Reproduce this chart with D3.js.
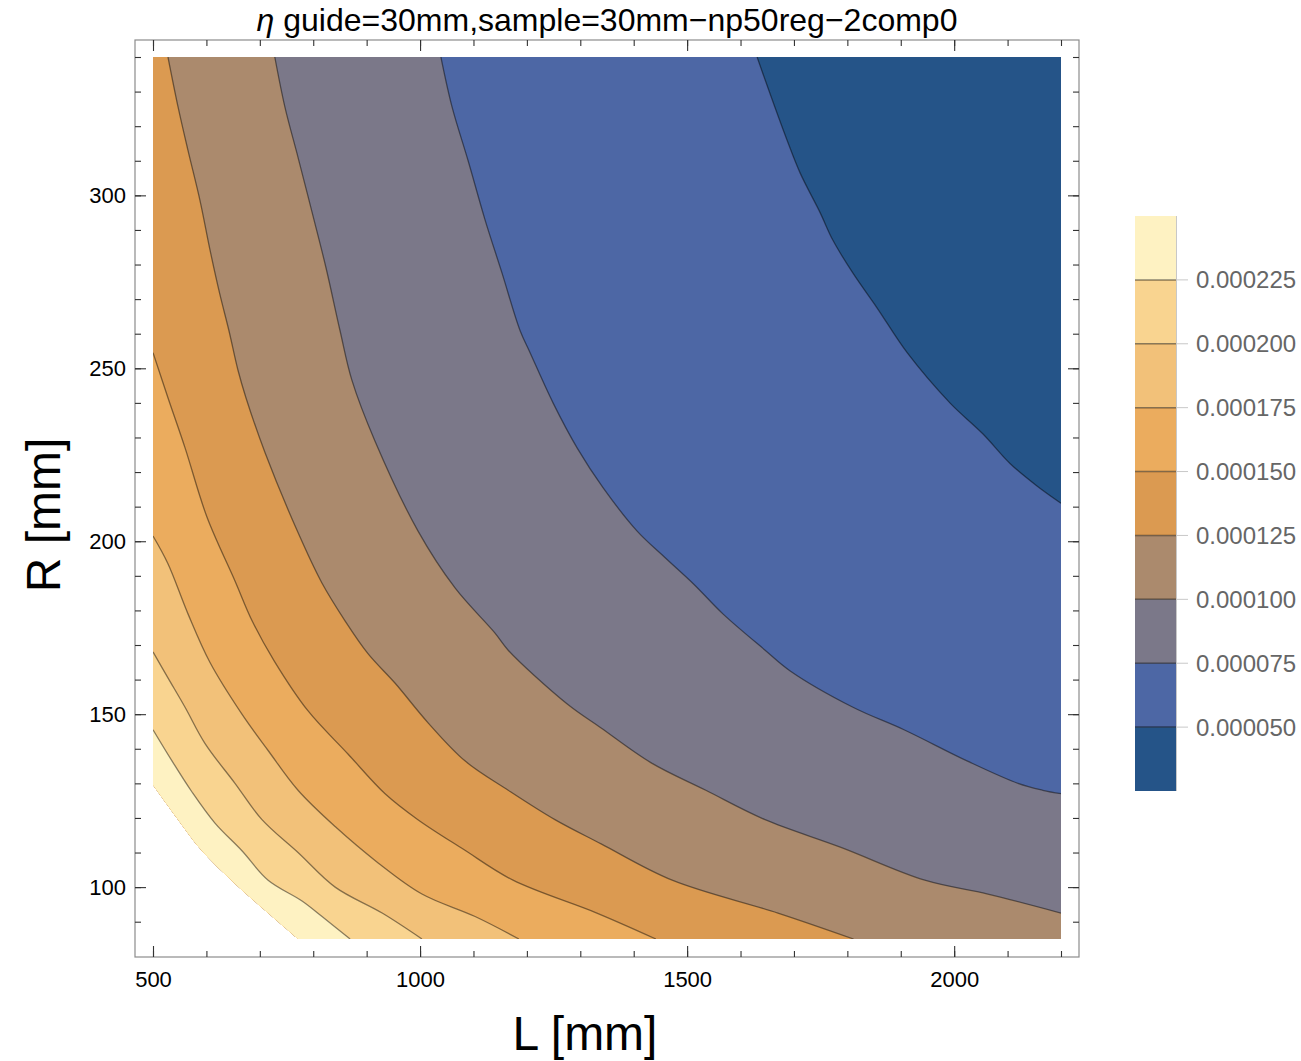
<!DOCTYPE html>
<html>
<head>
<meta charset="utf-8">
<script src="https://cdnjs.cloudflare.com/ajax/libs/d3/7.8.5/d3.min.js"></script>
<style>
  body { margin: 0; background: #fff; }
  text { font-family: "Liberation Sans", Arial, Helvetica, sans-serif; }
</style>
</head>
<body>
<div id="root"></div>
<script>
// contour levels of eta and the band colours (lowest band first)
const levels = [0.000050, 0.000075, 0.000100, 0.000125, 0.000150, 0.000175, 0.000200, 0.000225];
const bandColors = ["#255488", "#4d67a5", "#7b7889", "#ab8a6d", "#db9a51",
                    "#ebac5e", "#f2c179", "#f9d490", "#fef2c2"];

// plotted range of L and R [mm]
const Lrange = [500, 2200];
const Rrange = [85, 340];

// contour lines, [L, R] pairs
const c050 = [[1631,340],[1655,329.5],[1687,316],[1711.5,306.5],[1749,295],[1773,287],[1810.5,277.5],
  [1855.5,267.5],[1912,254.5],[1992,240],[2054,231],[2104.5,222.5],[2155,216],[2200,211]];
const c075 = [[1039,340],[1060,325.5],[1090,310],[1121.5,293],[1153.5,277.5],[1187,261],[1206,254.5],
  [1249,240],[1294,227],[1342.5,215.5],[1406,203],[1460.5,195],[1513,187.5],[1567,179],[1646,168.5],
  [1693,162.5],[1810.5,152],[1906,145.5],[2024,136.5],[2119.5,130],[2166,128],[2200,127]];
const c100 = [[728,340],[747,325.5],[771.5,311],[798,295],[824,279],[850,261],[872.5,246.5],[915.5,229],
  [996,203],[1065.5,186.5],[1140,173.5],[1165,168.5],[1275,153],[1339,146],[1432,136],[1535,128],
  [1646,119.5],[1788,111.5],[1945,102],[2063,98],[2200,92.5]];
const c125 = [[528,340],[547,325.5],[565.5,313],[588,298.5],[607,284],[625,271.5],[642,261],[659,249.5],
  [674,241.5],[710,225.5],[771.5,202.5],[816,188],[859.5,177],[902.5,167.5],[953,159],[1015,147.5],
  [1084,136.5],[1165,128],[1252.5,119.5],[1339,112.5],[1472,102],[1670,92.5],[1811.5,85]];
const c150 = [[500,254.5],[528,241.5],[560,227],[601,207],[653.5,188.5],[685.5,177],[726.5,165.5],[790,151],
  [865,138.5],[934.5,127],[996,119.5],[1080.5,111],[1174,102],[1331,92.5],[1441.5,85]];
const c175 = [[500,201.5],[528,193.5],[565.5,179],[606.5,165],[666.5,150],[715.5,139.5],[771.5,128],
  [841,117.5],[921.5,107],[1003.5,98],[1103,91.5],[1185,85]];
const c200 = [[500,168],[528,160.5],[560,152],[597.5,141.5],[653.5,130],[704,119.5],[771.5,110],
  [841,100],[929,92.5],[1003.5,85]];
const c225 = [[500,145.5],[535.5,136.5],[573,127.5],[616,118.5],[666.5,110.5],[715.5,102],[779,96],
  [816.5,91.5],[869,85]];

// lower-left edge of the sampled data (white corner outside)
const dataEdge = [[500,129.5],[547,119.5],[591.5,110.5],[653.5,101],[715.5,92.5],[771.5,85]];

const contours = [c050, c075, c100, c125, c150, c175, c200, c225];

const xMajor = [500, 1000, 1500, 2000];
const yMajor = [100, 150, 200, 250, 300];

// layout
const W = 1301, H = 1061;
const frame = {left: 135, right: 1079, top: 40, bottom: 957};

const x = d3.scaleLinear().domain(Lrange).range([153, 1061]);
const y = d3.scaleLinear().domain(Rrange).range([939, 57]);

const line = d3.line().x(d => x(d[0])).y(d => y(d[1]));
const smooth = d3.line().curve(d3.curveCatmullRom.alpha(0.5))
    .x(d => x(d[0])).y(d => y(d[1]));

// region with value above a contour = everything lower-left of the line
function regionAbove(pts) {
    let corners = [];
    let first = pts[0], last = pts[pts.length - 1];
    if (last[0] >= Lrange[1]) corners.push([Lrange[1], Rrange[0]]);
    corners.push([Lrange[0], Rrange[0]]);
    if (first[1] >= Rrange[1]) corners.push([Lrange[0], Rrange[1]]);
    return smooth(pts) + corners.map(p => "L" + x(p[0]) + "," + y(p[1])).join("") + "Z";
}

const domainPath = line([[Lrange[0], Rrange[1]], [Lrange[1], Rrange[1]], [Lrange[1], Rrange[0]]])
    + smooth(dataEdge.slice().reverse()).replace(/^M/, "L") + "Z";

const svg = d3.select("#root").append("svg")
    .attr("width", W)
    .attr("height", H);

svg.append("defs").append("clipPath")
    .attr("id", "dataClip")
    .append("path")
    .attr("d", domainPath);

const plot = svg.append("g").attr("clip-path", "url(#dataClip)");

// lowest band covers the whole domain
plot.append("path")
    .attr("d", domainPath)
    .attr("fill", bandColors[0]);

contours.forEach((c, i) => {
    plot.append("path")
        .attr("d", regionAbove(c))
        .attr("fill", bandColors[i + 1]);
});

contours.forEach((c) => {
    plot.append("path")
        .attr("d", smooth(c))
        .attr("fill", "none")
        .attr("stroke", "rgba(0,0,0,0.45)")
        .attr("stroke-width", 1.3);
});

// frame
svg.append("rect")
    .attr("x", frame.left).attr("y", frame.top)
    .attr("width", frame.right - frame.left)
    .attr("height", frame.bottom - frame.top)
    .attr("fill", "none")
    .attr("stroke", "#8c8c8c")
    .attr("stroke-width", 1.2);

// ticks on all four sides, pointing inward
function ticks(axisFn, pos, values, size, labels) {
    let a = axisFn(pos === "x" ? x : y)
        .tickValues(values)
        .tickSizeInner(-size)
        .tickSizeOuter(0)
        .tickPadding(pos === "x" ? 14 : 9)
        .tickFormat(labels ? d3.format("d") : "");
    return a;
}

function addAxis(axis, tx, ty, labelSize) {
    let g = svg.append("g")
        .attr("transform", "translate(" + tx + "," + ty + ")")
        .call(axis);
    g.select(".domain").remove();
    g.selectAll("line").attr("stroke", "#333").attr("stroke-width", 1.1);
    g.selectAll("text")
        .style("font-size", labelSize + "px")
        .style("font-family", "'Liberation Sans', Arial, sans-serif")
        .attr("fill", "#000");
    return g;
}

const xMinor = d3.range(500, 2201, 100);
const yMinor = d3.range(90, 341, 10);

addAxis(ticks(d3.axisBottom, "x", xMinor, 6, false), 0, frame.bottom, 22);
addAxis(ticks(d3.axisBottom, "x", xMajor, 11, true), 0, frame.bottom, 22);
addAxis(ticks(d3.axisTop, "x", xMinor, 6, false), 0, frame.top, 22);
addAxis(ticks(d3.axisTop, "x", xMajor, 11, false), 0, frame.top, 22);
addAxis(ticks(d3.axisLeft, "y", yMinor, 6, false), frame.left, 0, 22);
addAxis(ticks(d3.axisLeft, "y", yMajor, 11, true), frame.left, 0, 22);
addAxis(ticks(d3.axisRight, "y", yMinor, 6, false), frame.right, 0, 22);
addAxis(ticks(d3.axisRight, "y", yMajor, 11, false), frame.right, 0, 22);

// axis titles
svg.append("text")
    .attr("x", 585).attr("y", 1050)
    .attr("text-anchor", "middle")
    .style("font-size", "48px")
    .text("L [mm]");

svg.append("text")
    .attr("transform", "translate(60,515)rotate(-90)")
    .attr("text-anchor", "middle")
    .style("font-size", "48px")
    .text("R [mm]");

// title
let title = svg.append("text")
    .attr("x", 607).attr("y", 31)
    .attr("text-anchor", "middle")
    .style("font-size", "32px");
title.append("tspan").style("font-style", "italic").text("η");
title.append("tspan").text(" guide=30mm,sample=30mm\u2212np50reg\u22122comp0");

// legend
const ly = d3.scaleLinear().domain([0.000025, 0.000250]).range([791, 216]);
const bounds = [0.000025].concat(levels).concat([0.000250]);
const legend = svg.append("g");

bandColors.forEach((col, i) => {
    legend.append("rect")
        .attr("x", 1135).attr("width", 41)
        .attr("y", ly(bounds[i + 1]))
        .attr("height", ly(bounds[i]) - ly(bounds[i + 1]))
        .attr("fill", col);
});

legend.append("line")
    .attr("x1", 1176.5).attr("x2", 1176.5)
    .attr("y1", ly(0.00025)).attr("y2", ly(0.000025))
    .attr("stroke", "#c8c8c8").attr("stroke-width", 1);

levels.forEach((v) => {
    legend.append("line")
        .attr("x1", 1135).attr("x2", 1176)
        .attr("y1", ly(v)).attr("y2", ly(v))
        .attr("stroke", "rgba(0,0,0,0.45)").attr("stroke-width", 1.5);
    legend.append("line")
        .attr("x1", 1176).attr("x2", 1188)
        .attr("y1", ly(v)).attr("y2", ly(v))
        .attr("stroke", "#c8c8c8").attr("stroke-width", 1);
    legend.append("text")
        .attr("x", 1196).attr("y", ly(v))
        .attr("dy", "0.35em")
        .attr("fill", "#666")
        .style("font-size", "24px")
        .text(d3.format(".6f")(v));
});
</script>
</body>
</html>
